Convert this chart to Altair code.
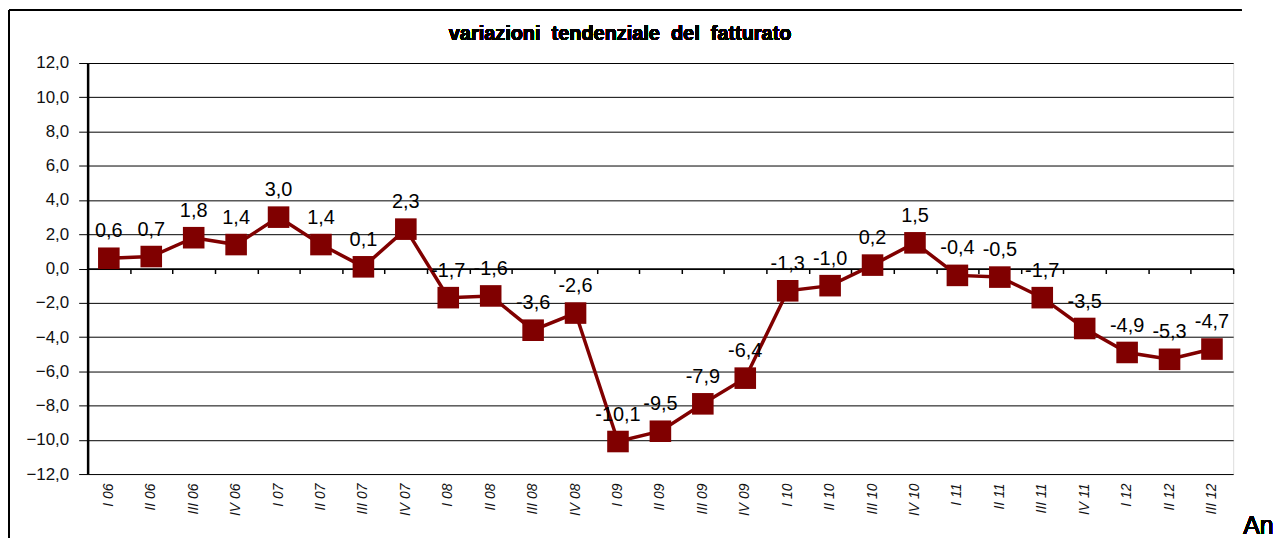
import altair as alt
import pandas as pd

categories = ["I 06", "II 06", "III 06", "IV 06",
              "I 07", "II 07", "III 07", "IV 07",
              "I 08", "II 08", "III 08", "IV 08",
              "I 09", "II 09", "III 09", "IV 09",
              "I 10", "II 10", "III 10", "IV 10",
              "I 11", "II 11", "III 11", "IV 11",
              "I 12", "II 12", "III 12"]
values = [0.6, 0.7, 1.8, 1.4,
          3.0, 1.4, 0.1, 2.3,
          -1.7, -1.6, -3.6, -2.6,
          -10.1, -9.5, -7.9, -6.4,
          -1.3, -1.0, 0.2, 1.5,
          -0.4, -0.5, -1.7, -3.5,
          -4.9, -5.3, -4.7]
y_ticks = [-12, -10, -8, -6, -4, -2, 0, 2, 4, 6, 8, 10, 12]
title_text = "variazioni\u00a0\u00a0tendenziale\u00a0\u00a0del\u00a0\u00a0fatturato"
corner_text = "An"

df = pd.DataFrame({
    "periodo": categories,
    "valore": values,
    "etichetta": [f"{v:.1f}".replace(".", ",") for v in values],
})

RED = "#800000"
W, H = 1151, 413

xscale = alt.Scale(type="band", paddingInner=0, paddingOuter=0)
yscale = alt.Scale(domain=[-12, 12], nice=False)

x_main = alt.X("periodo:N", sort=categories, scale=xscale, title=None,
               axis=alt.Axis(orient="bottom", labelAngle=270, labelAlign="right",
                             labelBaseline="middle",
                             labelFont="Liberation Sans", labelFontStyle="italic",
                             labelFontSize=14, labelColor="#111", labelPadding=9,
                             ticks=False, domain=False, grid=False))
y_main = alt.Y("valore:Q", scale=yscale, title=None,
               axis=alt.Axis(values=y_ticks,
                             labelExpr="replace(format(datum.value, '.1f'), '.', ',')",
                             labelFont="Liberation Sans", labelFontSize=17, labelColor="#111",
                             labelPadding=10, tickSize=9, tickColor="black", tickWidth=1,
                             domain=True, domainColor="black", domainWidth=2.5,
                             grid=True, gridColor="black", gridWidth=1))
x_plain = alt.X("periodo:N", sort=categories, scale=xscale, title=None, axis=None)

line = alt.Chart(df).mark_line(color=RED, strokeWidth=3.5).encode(x=x_main, y=y_main)

points = alt.Chart(df).mark_point(shape="square", filled=True, size=470, color=RED,
                                  opacity=1).encode(x=x_plain, y=y_main)

labels = alt.Chart(df).mark_text(font="Liberation Sans", fontSize=20, color="black",
                                 dy=-27).encode(x=x_plain, y=y_main, text="etichetta:N")

zero_axis = alt.Chart(df).mark_point(opacity=0).encode(
    x=alt.X("periodo:N", sort=categories, scale=xscale, title=None,
            axis=alt.Axis(orient="bottom", offset=-H / 2, labels=False, ticks=True,
                          tickBand="extent", tickSize=5, tickColor="black", tickWidth=1.5,
                          domain=True, domainColor="black", domainWidth=1.5, grid=False)),
    y=y_main)

title = alt.Chart(df).mark_text(text=title_text, font="Liberation Sans", fontSize=20,
                                fontWeight="bold", color="black", align="center",
                                baseline="alphabetic").encode(
    x=alt.value(535), y=alt.value(-23))

corner = alt.Chart(df).mark_text(text=corner_text, font="Liberation Sans", fontSize=25,
                                 color="black", align="left", baseline="alphabetic").encode(
    x=alt.value(W + 10), y=alt.value(H + 60))

frame_top = alt.Chart(df).mark_rule(color="black", strokeWidth=1.5).encode(
    x=alt.value(-79), x2=alt.value(W + 8), y=alt.value(-53))
frame_left = alt.Chart(df).mark_rule(color="black", strokeWidth=1.5).encode(
    x=alt.value(-79), y=alt.value(-53), y2=alt.value(H + 70))

chart = alt.layer(
    line, zero_axis, points, labels, title, corner, frame_top, frame_left
).resolve_axis(x="independent").properties(
    width=W, height=H,
    autosize=alt.AutoSizeParams(type="none"),
    padding={"left": 80, "top": 54, "right": 40, "bottom": 68},
).configure_view(stroke=None).configure(background="white")

chart.save("out.html", embed_options={"renderer": "svg", "actions": False})
